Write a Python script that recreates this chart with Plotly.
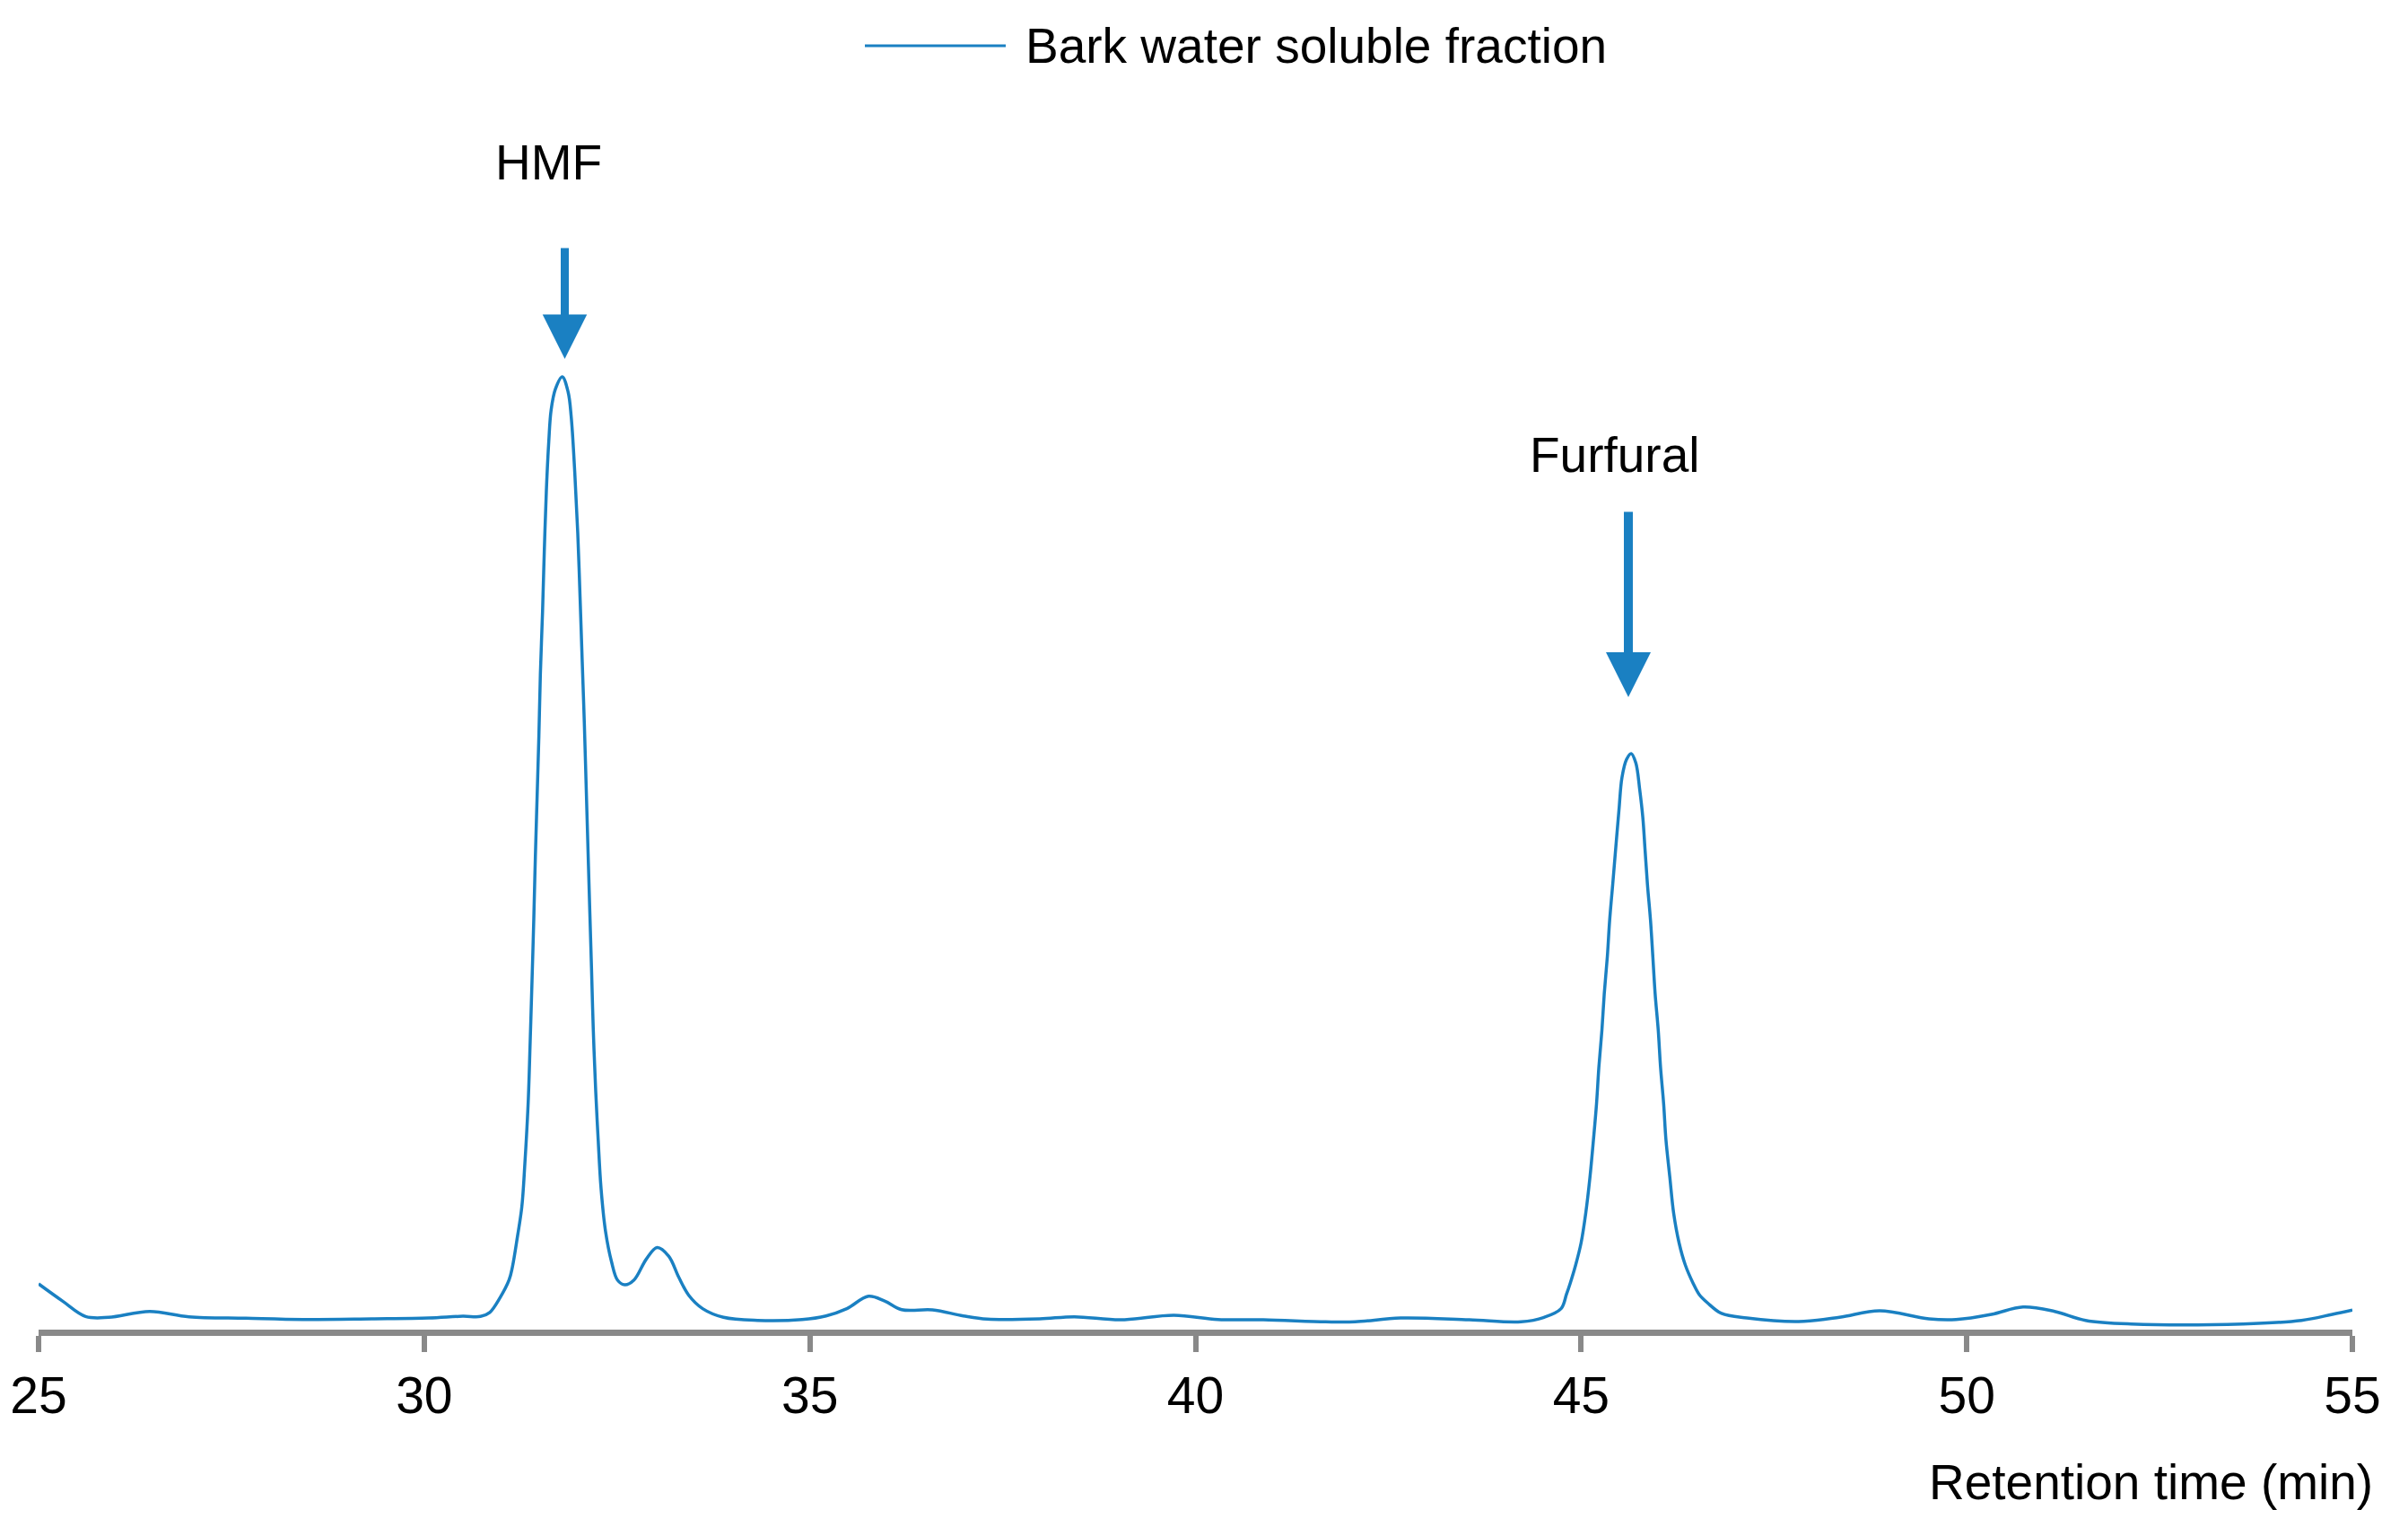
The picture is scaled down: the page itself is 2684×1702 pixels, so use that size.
import plotly.graph_objects as go

# ---------------- data ----------------
retention_time = [
    25.00, 25.31, 25.61, 25.91, 26.44, 26.95, 27.69, 28.43, 29.32, 30.06,
    30.50, 30.73, 30.85, 30.98, 31.10, 31.142, 31.208, 31.266, 31.305, 31.348,
    31.374, 31.398, 31.421, 31.441, 31.464, 31.487, 31.506, 31.534, 31.557, 31.584,
    31.615, 31.645, 31.70, 31.79, 31.866, 31.906, 31.952, 31.991, 32.022, 32.049,
    32.076, 32.099, 32.122, 32.145, 32.169, 32.192, 32.223, 32.255, 32.293, 32.351,
    32.429, 32.506, 32.60, 32.72, 32.88, 33.02, 33.17, 33.30, 33.43, 33.61,
    33.88, 34.32, 34.90, 35.21, 35.48, 35.76, 35.97, 36.19, 36.59, 36.99,
    37.30, 37.98, 38.43, 39.03, 39.72, 40.29, 40.88, 41.69, 42.07, 42.66,
    43.55, 44.22, 44.52, 44.74, 44.81, 44.86, 44.93, 45.00, 45.06, 45.115,
    45.16, 45.20, 45.23, 45.27, 45.30, 45.34, 45.37, 45.41, 45.45, 45.49,
    45.53, 45.59, 45.65, 45.71, 45.76, 45.80, 45.83, 45.86, 45.90, 45.93,
    45.96, 46.00, 46.03, 46.07, 46.10, 46.15, 46.20, 46.27, 46.35, 46.45,
    46.53, 46.64, 46.82, 47.15, 47.82, 48.35, 48.87, 49.51, 49.86, 50.32,
    50.73, 51.14, 51.54, 52.13, 53.58, 54.34, 54.74, 55.00,
]
signal = [
    4.8, 3.0, 1.38, 1.29, 1.91, 1.35, 1.19, 1.06, 1.13, 1.22,
    1.40, 1.38, 1.80, 3.3, 5.2, 6.5, 9.7, 12.9, 17.4, 23.8,
    30.2, 36.6, 43.1, 49.5, 55.9, 62.3, 68.7, 75.2, 81.6, 88.0,
    93.1, 96.4, 98.6, 99.9, 98.3, 95.7, 89.9, 83.5, 76.5, 70.0,
    63.6, 57.2, 50.8, 44.4, 37.9, 31.5, 25.1, 20.0, 14.8, 10.3,
    7.1, 5.2, 4.7, 5.2, 7.4, 8.6, 7.7, 5.5, 3.6, 2.2,
    1.29, 0.97, 1.06, 1.44, 2.2, 3.5, 3.0, 2.1, 2.07, 1.44,
    1.10, 1.13, 1.35, 1.03, 1.5, 1.06, 1.03, 0.82, 0.82, 1.22,
    1.03, 0.82, 1.29, 2.2, 3.7, 4.9, 6.8, 9.1, 12.2, 16.0,
    19.9, 23.7, 27.5, 31.4, 35.2, 39.1, 42.9, 46.7, 50.6, 54.4,
    57.9, 59.8, 60.4, 59.4, 56.6, 53.7, 50.2, 46.7, 42.9, 39.1,
    35.2, 31.4, 27.5, 23.7, 19.9, 16.0, 12.2, 9.1, 6.8, 4.9,
    3.7, 2.8, 1.7, 1.22, 0.85, 1.29, 1.98, 1.13, 1.06, 1.6,
    2.38, 1.91, 0.97, 0.59, 0.59, 0.97, 1.6, 2.05,
]
series_name = "Bark water soluble fraction"
peak_labels = ["HMF", "Furfural"]
x_tick_values = [25, 30, 35, 40, 45, 50, 55]
x_tick_labels = ["25", "30", "35", "40", "45", "50", "55"]
x_axis_title = "Retention time (min)"

# ---------------- layout geometry ----------------
W, H = 2684, 1702
BODY = 8                       # default page margin of the html body
PLOT_X0, PLOT_X1 = 43, 2622    # target plot area on the page (px)
PLOT_Y0, PLOT_Y1 = 100, 1482
PW, PH = PLOT_X1 - PLOT_X0, PLOT_Y1 - PLOT_Y0
L = PLOT_X0 - BODY
T = PLOT_Y0 - BODY
R = W - L - PW
B = H - T - PH


def px_x(px):
    return (px - PLOT_X0) / PW


def px_y(py):
    return (PLOT_Y1 - py) / PH


BLUE = "#1a80c2"
GREY = "#898989"
FONT = "Liberation Sans, Arial, sans-serif"
FS = 55

fig = go.Figure()
fig.add_trace(go.Scatter(
    x=retention_time, y=signal, mode="lines", name=series_name,
    line=dict(color=BLUE, width=3.5, shape="spline", smoothing=1.0),
    showlegend=False,
))

annotations = [
    # legend text
    dict(text=series_name, xref="paper", yref="paper", x=px_x(1141), y=px_y(51),
         xanchor="left", yanchor="middle", showarrow=False,
         font=dict(size=FS, color="black", family=FONT)),
    # peak labels
    dict(text=peak_labels[0], xref="paper", yref="paper", x=px_x(611), y=px_y(181),
         xanchor="center", yanchor="middle", showarrow=False,
         font=dict(size=FS, color="black", family=FONT)),
    dict(text=peak_labels[1], xref="paper", yref="paper", x=px_x(1800), y=px_y(507),
         xanchor="center", yanchor="middle", showarrow=False,
         font=dict(size=FS, color="black", family=FONT)),
    # arrows
    dict(text="", xref="paper", yref="paper", x=px_x(629.5), y=px_y(400),
         axref="pixel", ayref="pixel", ax=0, ay=-125, showarrow=True,
         arrowhead=2, arrowsize=1.1, arrowwidth=9, arrowcolor=BLUE, standoff=0),
    dict(text="", xref="paper", yref="paper", x=px_x(1815), y=px_y(777),
         axref="pixel", ayref="pixel", ax=0, ay=-208, showarrow=True,
         arrowhead=2, arrowsize=1.0, arrowwidth=10, arrowcolor=BLUE, standoff=0),
    # x-axis title
    dict(text=x_axis_title, xref="paper", yref="paper", x=px_x(2647), y=px_y(1652),
         xanchor="right", yanchor="middle", showarrow=False,
         font=dict(size=FS, color="black", family=FONT)),
]

shapes = [
    dict(type="line", xref="paper", yref="paper", x0=px_x(964), x1=px_x(1121),
         y0=px_y(51), y1=px_y(51), line=dict(color=BLUE, width=3)),
]

fig.update_layout(
    width=W, height=H,
    margin=dict(l=L, r=R, t=T, b=B, pad=0),
    paper_bgcolor="white", plot_bgcolor="white",
    showlegend=False,
    annotations=annotations,
    shapes=shapes,
    xaxis=dict(
        range=[25, 55], tickmode="array", tickvals=x_tick_values, ticktext=x_tick_labels,
        showline=True, linecolor=GREY, linewidth=7,
        ticks="outside", ticklen=18, tickwidth=6, tickcolor=GREY,
        tickfont=dict(size=FS + 2, color="black", family=FONT),
        showgrid=False, zeroline=False, automargin=False,
    ),
    yaxis=dict(range=[0, 130], visible=False, showgrid=False, zeroline=False),
)

fig.write_html("out.html")
